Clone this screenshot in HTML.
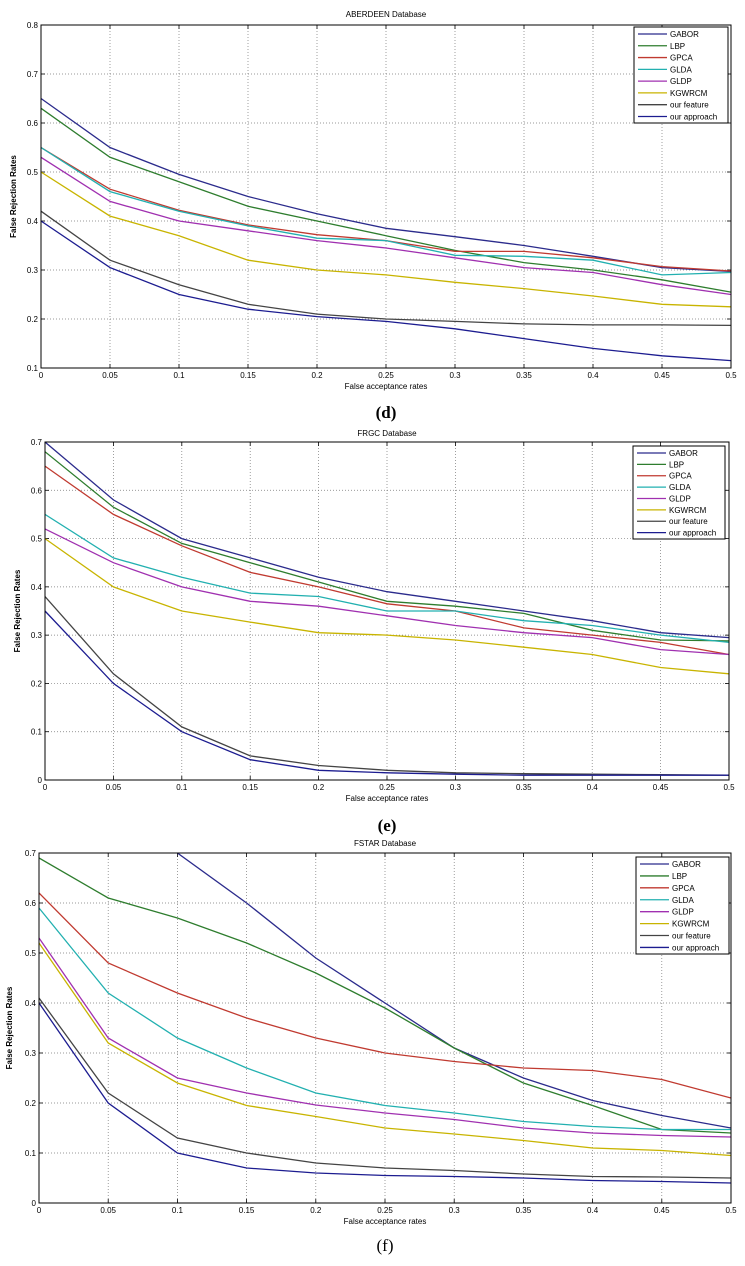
<!DOCTYPE html>
<html><head><meta charset="utf-8"><style>
body{margin:0;background:#fff;width:745px;height:1266px;overflow:hidden;font-family:"Liberation Sans",Arial,sans-serif}
svg{position:absolute;left:0;top:0}
</style></head><body>
<svg id="fig" width="745" height="1266" viewBox="0 0 745 1266" xmlns="http://www.w3.org/2000/svg"></svg>
<script>
const xTicks=[0,0.05,0.1,0.15,0.2,0.25,0.3,0.35,0.4,0.45,0.5];
const xTickLabels=["0","0.05","0.1","0.15","0.2","0.25","0.3","0.35","0.4","0.45","0.5"];
const seriesNames=["GABOR","LBP","GPCA","GLDA","GLDP","KGWRCM","our feature","our approach"];
const colors=["#2b2b8c","#2e7d2e","#c03a30","#22b0b0","#a030b0","#c8b400","#444444","#1c1c90"];
const dTitle="ABERDEEN Database";
const dYTicks=[0.1,0.2,0.3,0.4,0.5,0.6,0.7,0.8];
const dGABOR=[.65,.55,.495,.45,.415,.385,.368,.35,.328,.305,.297];
const dLBP=[.63,.53,.48,.43,.40,.37,.34,.315,.30,.28,.255];
const dGPCA=[.55,.465,.422,.392,.372,.36,.338,.338,.325,.307,.298];
const dGLDA=[.55,.46,.42,.39,.365,.36,.33,.328,.32,.29,.295];
const dGLDP=[.53,.44,.40,.38,.36,.345,.325,.305,.295,.27,.25];
const dKGWRCM=[.50,.41,.37,.32,.30,.29,.275,.262,.247,.23,.225];
const dFeature=[.42,.32,.27,.23,.21,.20,.195,.19,.188,.188,.187];
const dApproach=[.40,.305,.25,.22,.205,.195,.18,.16,.14,.125,.115];
const eTitle="FRGC Database";
const eYTicks=[0,0.1,0.2,0.3,0.4,0.5,0.6,0.7];
const eGABOR=[.70,.58,.50,.46,.42,.39,.37,.35,.33,.305,.295];
const eLBP=[.68,.565,.49,.45,.41,.37,.36,.345,.31,.29,.288];
const eGPCA=[.65,.55,.485,.43,.40,.365,.35,.315,.30,.285,.26];
const eGLDA=[.55,.46,.42,.387,.38,.35,.35,.33,.32,.30,.285];
const eGLDP=[.52,.45,.40,.37,.36,.34,.32,.305,.295,.27,.26];
const eKGWRCM=[.50,.40,.35,.327,.305,.30,.29,.275,.26,.233,.22];
const eFeature=[.38,.22,.11,.05,.03,.02,.015,.013,.012,.011,.01];
const eApproach=[.35,.20,.10,.042,.02,.015,.012,.01,.01,.01,.01];
const fTitle="FSTAR Database";
const fYTicks=[0,0.1,0.2,0.3,0.4,0.5,0.6,0.7];
const fGABOR=[.90,.80,.70,.60,.49,.40,.31,.25,.205,.175,.15];
const fLBP=[.69,.61,.57,.52,.46,.39,.31,.24,.195,.147,.14];
const fGPCA=[.62,.48,.42,.37,.33,.30,.283,.27,.265,.247,.21];
const fGLDA=[.59,.42,.33,.27,.22,.195,.18,.163,.153,.147,.147];
const fGLDP=[.53,.33,.25,.22,.196,.18,.167,.15,.14,.135,.132];
const fKGWRCM=[.52,.32,.24,.195,.173,.15,.138,.125,.11,.105,.095];
const fFeature=[.41,.22,.13,.10,.08,.07,.065,.058,.053,.052,.05];
const fApproach=[.40,.20,.10,.07,.06,.055,.053,.05,.045,.043,.04];

const NS="http://www.w3.org/2000/svg";
const svg=document.getElementById('fig');
function mk(tag,attrs,parent,text){const e=document.createElementNS(NS,tag);for(const k in attrs)e.setAttribute(k,attrs[k]);if(text!==undefined)e.textContent=text;(parent||svg).appendChild(e);return e;}

function chart(cfg){
  const g=mk('g',{});
  
  
  const ymin=cfg.yTicks[0],ymax=cfg.yTicks[cfg.yTicks.length-1];
  const X=v=>cfg.x0+(v-0)/(0.5-0)*(cfg.x1-cfg.x0);
  const Y=v=>cfg.yb+(v-ymin)/(ymax-ymin)*(cfg.yt-cfg.yb);
  const cp=mk('clipPath',{id:'clip-'+cfg.id},g);
  mk('rect',{x:cfg.x0,y:cfg.yt,width:cfg.x1-cfg.x0,height:cfg.yb-cfg.yt},cp);
  xTicks.forEach((t,i)=>{
    const x=X(t);
    if(i>0&&i<xTicks.length-1){const l=mk('line',{x1:x,y1:cfg.yt,x2:x,y2:cfg.yb,stroke:'#777','stroke-width':0.7,'stroke-dasharray':'1,2'},g);}
    mk('line',{x1:x,y1:cfg.yb,x2:x,y2:cfg.yb-4,stroke:'#000','stroke-width':0.8},g);
    mk('line',{x1:x,y1:cfg.yt,x2:x,y2:cfg.yt+4,stroke:'#000','stroke-width':0.8},g);
    const tl=mk('text',{x:x,y:cfg.yb+10,'font-size':8,'text-anchor':'middle',fill:'#000'},g,xTickLabels[i]);
    
    
  });
  cfg.yTicks.forEach((t,i)=>{
    const y=Y(t);
    if(i>0&&i<cfg.yTicks.length-1){const l=mk('line',{x1:cfg.x0,y1:y,x2:cfg.x1,y2:y,stroke:'#777','stroke-width':0.7,'stroke-dasharray':'1,2'},g);}
    mk('line',{x1:cfg.x0,y1:y,x2:cfg.x0+4,y2:y,stroke:'#000','stroke-width':0.8},g);
    mk('line',{x1:cfg.x1,y1:y,x2:cfg.x1-4,y2:y,stroke:'#000','stroke-width':0.8},g);
    const tl=mk('text',{x:cfg.x0-3,y:y+3,'font-size':8,'text-anchor':'end',fill:'#000'},g,String(t));
    
    
  });
  cfg.series.forEach((vals,si)=>{
    const pts=vals.map((v,i)=>X(xTicks[i]).toFixed(1)+','+Y(v).toFixed(1)).join(' ');
    const pl=mk('polyline',{points:pts,fill:'none',stroke:colors[si],'stroke-width':1.3,'clip-path':'url(#clip-'+cfg.id+')'},g);
    
    
  });
  const box=mk('rect',{x:cfg.x0,y:cfg.yt,width:cfg.x1-cfg.x0,height:cfg.yb-cfg.yt,fill:'none',stroke:'#000','stroke-width':1},g);
  
  
  const t=mk('text',{x:(cfg.x0+cfg.x1)/2,y:cfg.titleY,'font-size':8,'text-anchor':'middle'},g,cfg.title);
  
  
  const xl=mk('text',{x:(cfg.x0+cfg.x1)/2,y:cfg.xlY,'font-size':8,'text-anchor':'middle'},g,'False acceptance rates');
  
  
  const ym=(cfg.yt+cfg.yb)/2;
  const yl=mk('text',{x:cfg.ylX,y:ym,'font-size':8,'font-weight':'bold','text-anchor':'middle',transform:'rotate(-90 '+cfg.ylX+' '+ym+')'},g,'False Rejection Rates');
  
  
  const L=cfg.legend;
  const lg=mk('g',{},g);
  
  
  mk('rect',{x:L.x,y:L.y,width:L.w,height:L.h,fill:'#fff',stroke:'#000','stroke-width':1},lg);
  seriesNames.forEach((n,i)=>{
    const ey=L.y+7+i*(L.h-10)/7.3;
    const eg=mk('g',{},lg);
    
    
    mk('line',{x1:L.x+4,y1:ey,x2:L.x+33,y2:ey,stroke:colors[i],'stroke-width':1.3},eg);
    mk('text',{x:L.x+36,y:ey+3,'font-size':8},eg,n);
  });
  const cap=mk('text',{x:(cfg.x0+cfg.x1)/2,y:cfg.capY,'font-size':17,'font-weight':cfg.capBold?'bold':'normal','text-anchor':'middle','font-family':'Liberation Serif, serif'},g,cfg.cap);
  
  
}
chart({id:'d',x0:41,x1:731,yt:25,yb:368,yTicks:dYTicks,title:dTitle,titleY:17,xlY:389,ylX:16,
  series:[dGABOR,dLBP,dGPCA,dGLDA,dGLDP,dKGWRCM,dFeature,dApproach],
  legend:{x:634,y:27,w:94,h:96},cap:'(d)',capY:418,capBold:true});
chart({id:'e',x0:45,x1:729,yt:442,yb:780,yTicks:eYTicks,title:eTitle,titleY:436,xlY:801,ylX:20,
  series:[eGABOR,eLBP,eGPCA,eGLDA,eGLDP,eKGWRCM,eFeature,eApproach],
  legend:{x:633,y:446,w:92,h:93},cap:'(e)',capY:831,capBold:true});
chart({id:'f',x0:39,x1:731,yt:853,yb:1203,yTicks:fYTicks,title:fTitle,titleY:846,xlY:1224,ylX:12,
  series:[fGABOR,fLBP,fGPCA,fGLDA,fGLDP,fKGWRCM,fFeature,fApproach],
  legend:{x:636,y:857,w:93,h:97},cap:'(f)',capY:1251,capBold:false});
</script>
</body></html>
